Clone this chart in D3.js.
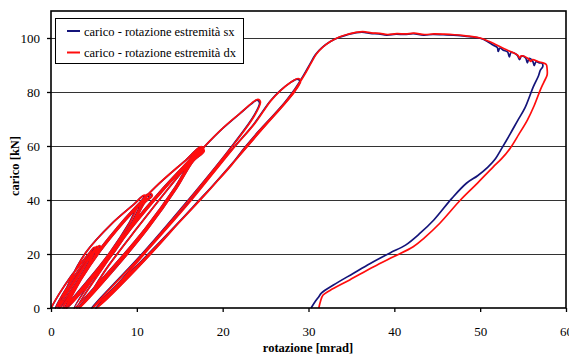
<!DOCTYPE html>
<html><head><meta charset="utf-8">
<script src="https://cdn.jsdelivr.net/npm/d3@7"></script>
<style>body{margin:0;background:#fff}</style>
</head><body>
<svg id="c" width="569" height="356"></svg>
<script>
const xTicks = [0, 10, 20, 30, 40, 50, 60];
const yTicks = [0, 20, 40, 60, 80, 100];
const gridValues = [20, 40, 60, 80, 100];
const seriesNames = ["carico - rotazione estremità sx", "carico - rotazione estremità dx"];
const seriesColors = ["#14147a", "#ff0d0d"];
const xTitle = "rotazione [mrad]";
const yTitle = "carico [kN]";

// [rotazione (mrad), carico (kN)]
const sxPoints = [
[0,0],[1.03,5.6],[2.2,11.2],[3.53,16.7],[4.51,20.5],[5.0,22.3],[5.12,21.7],[4.73,20.5],[4.1,16.7],[3.05,11.2],[1.85,5.6],[0.5,0],
[1.48,5.65],[2.6,11.3],[3.88,16.95],[4.83,20.8],[5.3,22.6],[5.42,22],[5.03,20.8],[4.4,16.95],[3.35,11.3],[2.15,5.65],[0.8,0],
[1.78,5.7],[2.9,11.45],[4.18,17.2],[5.13,21.1],[5.6,22.9],[5.72,22.3],[5.32,21.1],[4.68,17.2],[3.6,11.45],[2.38,5.7],[1.0,0],
[2.25,10.4],[4.1,20.75],[7.03,31.1],[9.58,38.2],[10.8,41.5],[11.0,40.5],[10.2,38.2],[9.03,31.1],[6.9,20.75],[4.33,10.4],[1.4,0],
[3.28,10.5],[5.5,21],[8.18,31.5],[10.27,38.6],[11.2,42],[11.4,41],[10.58,38.6],[9.38,31.5],[7.2,21],[4.58,10.5],[1.6,0],
[3.5,10.6],[5.75,21.15],[8.45,31.7],[10.56,38.9],[11.5,42.3],[11.7,41.3],[10.87,38.9],[9.65,31.7],[7.45,21.15],[4.8,10.6],[1.8,0],
[4.3,14.9],[7.7,29.75],[12.1,44.6],[15.68,54.7],[17.4,59.5],[17.7,58.4],[16.42,54.7],[14.45,44.6],[11.05,29.75],[7.1,14.9],[2.7,0],
[5.68,14.65],[9.05,29.3],[12.93,43.95],[15.86,53.9],[17.2,58.6],[17.45,57.5],[16.24,53.9],[14.3,43.95],[11.0,29.3],[7.2,14.65],[3.0,0],
[5.98,14.75],[9.35,29.5],[13.23,44.25],[16.16,54.3],[17.5,59],[17.75,57.9],[16.54,54.3],[14.6,44.25],[11.3,29.5],[7.5,14.75],[3.3,0],
[4.2,3.5],[6.5,14.8],[10,29.5],[13.6,44],[16.3,54.3],[17.8,59.5],[20,66.5],[22,72],[23.3,75.5],[24,77],[24.3,76],[23.6,71],[20.6,58],[15.6,38.5],[10.4,19.3],[4.7,0],
[7.5,8],[10.6,19.3],[15.9,38.5],[20.9,58],[23.6,68],[24.6,72.5],[25.5,76.5],[26.7,80.5],[27.8,83.3],[28.7,84.8],[29.0,84],[28.3,80],[24.5,66],[18.2,43],[11.8,21.5],[5.2,0],
[6.5,3.5],[9.8,14],[12.3,22.5],[14.8,31.4],[17,39],[19.1,46.2],[21,53],[22.6,59.5],[24.2,65.5],[25.8,71],[27.2,76],[28.4,81],[29.4,86],[30.2,90.5],
[30.8,93.8],[31.6,96.5],[32.5,98.6],[33.5,100.2],[34.5,101.2],[35.6,102],[36.5,102.1],[37.2,101.7],[38.2,101.5],[39.1,101.1],[40.2,101.4],[41.2,101.3],
[42.2,101.6],[43.4,101.1],[44.5,101.3],[45.7,101.2],[46.9,101.1],[48,100.8],[48.8,100.5],[50,99.9],[50.8,98.8],[51.5,97.4],
[52,96.5],[52.1,95],[52.3,96.3],[52.7,95.5],[53.2,94.8],[53.4,93],[53.6,94.6],[54.3,93.7],[54.6,92],[54.8,93.3],[55.3,92.6],[55.5,90.8],[55.7,92.4],
[56.1,91.6],[56.3,89.8],[56.5,91.2],[56.9,90.8],[57.2,90.7],[57.3,89.5],[57.0,88],[56.8,86],[56.2,82],[55.2,74],[54.4,69.6],[53.5,64.5],[52.6,59.6],
[51.8,55.4],[50.9,52.2],[49.7,49],[48.4,46.2],[46.7,40.6],[44.6,32.6],[43,27.7],[41.3,23.3],[39.5,20.4],[37.2,16.5],[35.2,12.8],[32.9,8.5],[31.5,5.5],
[31.2,4.2],[30.8,2.5],[30.3,0]
];

const dxPoints = [
[0,0],[1.0,5.5],[2.25,11.3],[3.6,16.9],[4.55,20.6],[5.05,22.5],[5.18,21.9],[4.8,20.6],[4.15,16.8],[3.1,11.3],[1.9,5.7],[0.55,0],
[1.5,5.7],[2.65,11.4],[3.95,17.1],[4.9,20.9],[5.35,22.8],[5.48,22.2],[5.1,20.9],[4.45,17],[3.4,11.4],[2.2,5.7],[0.85,0],
[1.8,5.8],[2.95,11.5],[4.25,17.3],[5.2,21.2],[5.65,23.1],[5.78,22.5],[5.4,21.2],[4.75,17.3],[3.65,11.5],[2.45,5.8],[1.05,0],
[2.3,10.5],[4.15,20.9],[7.1,31.3],[9.65,38.4],[10.9,41.8],[11.1,40.8],[10.3,38.4],[9.1,31.2],[6.95,20.9],[4.4,10.5],[1.45,0],
[3.35,10.6],[5.55,21.1],[8.25,31.6],[10.35,38.8],[11.3,42.2],[11.5,41.2],[10.65,38.8],[9.45,31.6],[7.25,21.1],[4.65,10.6],[1.65,0],
[3.55,10.7],[5.8,21.3],[8.5,31.8],[10.6,39.1],[11.6,42.5],[11.8,41.5],[10.95,39.1],[9.7,31.8],[7.5,21.3],[4.85,10.7],[1.85,0],
[4.35,15],[7.75,29.9],[12.15,44.8],[15.75,54.9],[17.5,59.8],[17.8,58.7],[16.5,54.9],[14.5,44.8],[11.1,29.9],[7.15,15],[2.75,0],
[5.75,14.8],[9.1,29.4],[13.0,44.1],[15.9,54.1],[17.3,58.8],[17.55,57.7],[16.3,54.1],[14.35,44.1],[11.05,29.4],[7.25,14.8],[3.05,0],
[6.05,14.9],[9.4,29.6],[13.3,44.4],[16.2,54.5],[17.6,59.2],[17.85,58.1],[16.6,54.5],[14.65,44.4],[11.35,29.6],[7.55,14.9],[3.35,0],
[4.25,3.6],[6.55,14.9],[10.05,29.6],[13.65,44.2],[16.35,54.5],[17.85,59.7],[20.05,66.7],[22.05,72.2],[23.35,75.8],[24.1,77.3],[24.4,76.3],[23.7,71.2],[20.7,58.2],[15.7,38.6],[10.5,19.4],[4.8,0],
[7.6,8.1],[10.7,19.4],[16.0,38.6],[21.0,58.2],[23.7,68.2],[24.7,72.7],[25.6,76.7],[26.8,80.7],[27.9,83.5],[28.8,85],[29.1,84.2],[28.4,80.2],[24.6,66.2],[18.3,43.2],[11.9,21.6],[5.3,0],
[6.6,3.6],[9.9,14.2],[12.4,22.7],[14.9,31.6],[17.1,39.2],[19.2,46.4],[21.1,53.2],[22.7,59.7],[24.3,65.7],[25.9,71.2],[27.3,76.2],[28.5,81.2],[29.5,86.2],[30.3,90.7],
[30.9,94],[31.7,96.7],[32.6,98.8],[33.6,100.4],[34.6,101.4],[35.7,102.2],[36.6,102.3],[37.3,101.9],[38.3,101.7],[39.2,101.3],[40.3,101.6],[41.3,101.5],
[42.3,101.8],[43.5,101.3],[44.6,101.5],[45.8,101.4],[47,101.2],[48.1,100.9],[48.9,100.6],[50,100],[51,98.8],[51.8,97.6],[52.8,96],[53.8,94.6],
[54.4,93.6],[54.6,92.6],[54.8,93.4],[55.6,92.4],[55.9,91.3],[56.1,92],[56.8,91.2],[57.3,90.8],[57.7,90.2],[57.8,88.5],[57.8,86.3],[57.4,83.5],[57.0,80.7],
[56.3,75],[55.5,69.6],[54.5,64.3],[53.5,59.2],[52.5,55.3],[51.5,52.2],[49.6,46],[47.7,40],[45.3,31.4],[43.5,26],[42.2,22.7],[39.9,19],[37.6,15.3],
[34.8,10.4],[32.5,6.5],[31.7,4.8],[31.4,2.5],[31.2,0]
];

const svg = d3.select("#c");
const x = d3.scaleLinear().domain([0, 60]).range([51, 566]);
const y = d3.scaleLinear().domain([0, 110]).range([308, 11]);
const serif = "'Liberation Serif','Times New Roman',Times,serif";

// gridlines
svg.append("g").selectAll("line").data(gridValues).join("line")
  .attr("x1", x(0)).attr("x2", x(60))
  .attr("y1", d => Math.round(y(d)) + 0.5).attr("y2", d => Math.round(y(d)) + 0.5)
  .attr("stroke", "#333").attr("stroke-width", 1);

// series
const line = d3.line().curve(d3.curveCatmullRom.alpha(0.5)).x(d => x(d[0])).y(d => y(d[1]));
[sxPoints, dxPoints].forEach((pts, i) => {
  svg.append("path").datum(pts).attr("d", line)
    .attr("fill", "none").attr("stroke", seriesColors[i])
    .attr("stroke-width", 1.7)
    .attr("stroke-linejoin", "round");
});

// frame
svg.append("rect").attr("x", x(0)).attr("y", y(110)).attr("width", x(60) - x(0)).attr("height", y(0) - y(110))
  .attr("fill", "none").attr("stroke", "#000").attr("stroke-width", 1.6);

// axes
const xAxis = svg.append("g").attr("transform", `translate(0,${y(0)})`)
  .call(d3.axisBottom(x).tickValues(xTicks).tickSize(4).tickSizeOuter(0).tickPadding(15));
const yAxis = svg.append("g").attr("transform", `translate(${x(0)},0)`)
  .call(d3.axisLeft(y).tickValues(yTicks).tickSize(4).tickSizeOuter(0).tickPadding(7));
[xAxis, yAxis].forEach(g => {
  g.select(".domain").remove();
  g.selectAll("line").attr("stroke", "#000").attr("stroke-width", 1.3);
  g.selectAll("text").attr("font-family", serif).attr("font-size", 13).attr("fill", "#000");
});

// titles
svg.append("text").attr("x", 308).attr("y", 352).attr("text-anchor", "middle")
  .attr("font-family", serif).attr("font-size", 12.5).attr("font-weight", "bold").text(xTitle);
svg.append("text").attr("transform", "translate(19,166) rotate(-90)").attr("text-anchor", "middle")
  .attr("font-family", serif).attr("font-size", 12.5).attr("font-weight", "bold").text(yTitle);

// legend
const lg = svg.append("g");
lg.append("rect").attr("x", 55.5).attr("y", 18.5).attr("width", 188).attr("height", 45)
  .attr("fill", "#fff").attr("stroke", "#000").attr("stroke-width", 1);
seriesNames.forEach((n, i) => {
  const ly = 31 + i * 21.5;
  lg.append("line").attr("x1", 67).attr("x2", 80).attr("y1", ly).attr("y2", ly)
    .attr("stroke", seriesColors[i]).attr("stroke-width", 2);
  lg.append("text").attr("x", 84).attr("y", ly + 4.5).attr("font-family", serif)
    .attr("font-size", 12.5).attr("fill", "#000").text(n);
});
</script>
</body></html>
